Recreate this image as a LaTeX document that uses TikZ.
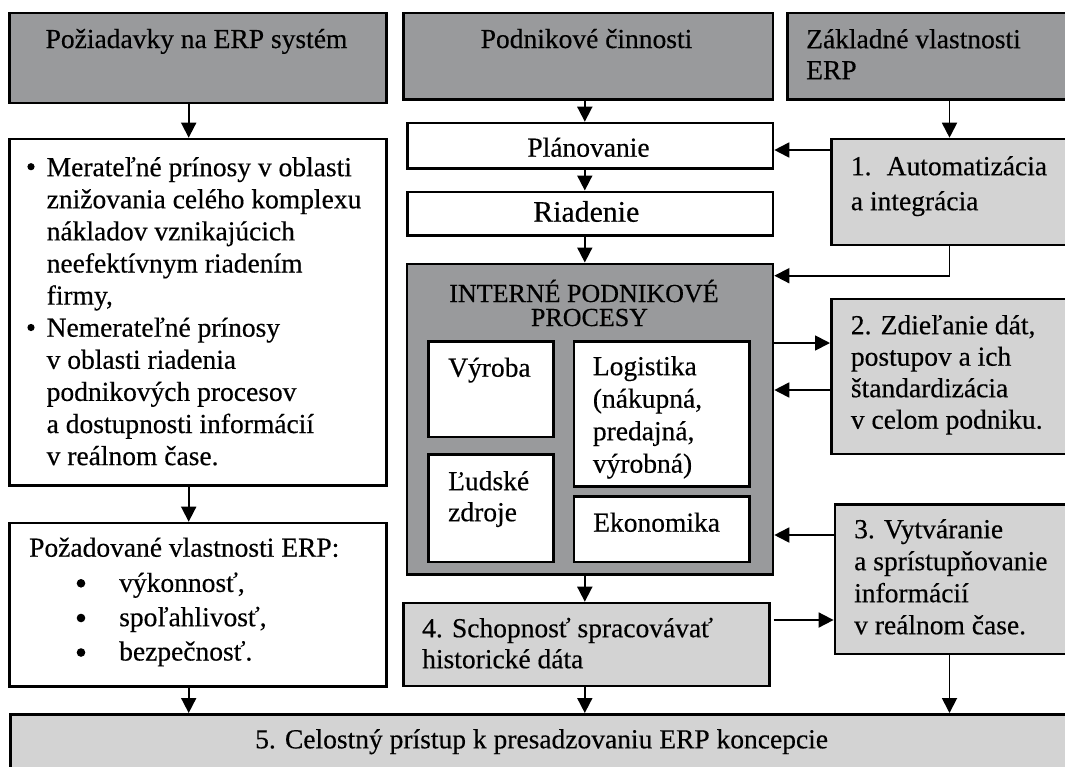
\documentclass[tikz,border=0pt]{standalone}
\usepackage{fontspec}
\setmainfont[FakeBold=0.4]{Liberation Serif}
\usetikzlibrary{arrows.meta,calc}
\definecolor{dk}{RGB}{153,154,156}
\definecolor{lt}{RGB}{211,211,211}
\newcommand\myfs[2]{\fontsize{#1}{#2}\selectfont}
\newcommand\st{\rule{0pt}{25pt}}
\newcommand\mybox[6]{\node[#1,anchor=north west,minimum width={(#5-#3)*1pt},minimum height={(#6-#4)*1pt}] (#2) at (#3,#4) {};}
\begin{document}
\begin{tikzpicture}[x=1pt,y=-1pt,
  bx/.style={draw=black,line width=2.6pt,inner sep=0pt},
  dkbox/.style={bx,fill=dk},
  ltbox/.style={bx,fill=lt},
  whbox/.style={bx,fill=white},
  txt/.style={inner sep=0pt,align=left,font=\myfs{27.5}{32}},
  dot/.style={fill=black},
  arr/.style={line width=1.8pt,draw=black,-{Triangle[length=15pt,width=15pt]}}]
\useasboundingbox (0,0) rectangle (1065,766);
\clip (0,0) rectangle (1065,766);
% boxes
\mybox{dkbox}{hA}{8}{11.7}{385}{101.7}
\mybox{dkbox}{hB}{402}{11.7}{771.7}{98}
\mybox{dkbox}{hC}{786}{11.7}{1075}{98}
\mybox{whbox}{plan}{406}{121.7}{771.7}{167}
\mybox{whbox}{ria}{406}{190.5}{771.7}{234.3}
\mybox{dkbox}{ip}{405.5}{262.5}{771.7}{573}
\mybox{whbox}{vyr}{427}{340}{552}{435.7}
\mybox{whbox}{lud}{427}{453}{552}{560.5}
\mybox{whbox}{log}{572.7}{340}{748}{485}
\mybox{whbox}{eko}{572.7}{495}{748}{560.5}
\mybox{ltbox}{b1}{830}{137.7}{1075}{243.5}
\mybox{ltbox}{b2}{830}{297.7}{1075}{452.7}
\mybox{ltbox}{b3}{833.6}{503}{1075}{652.7}
\mybox{ltbox}{b4}{402}{601.7}{768}{684.5}
\mybox{ltbox}{b5}{9}{713}{1075}{790}
\mybox{whbox}{bul}{8}{137.7}{385}{484}
\mybox{whbox}{req}{8}{521.7}{385}{685}
% texts
\node[txt,anchor=base] (tA) at (196.5,48) {Požiadavky na ERP systém};
\node[txt,anchor=base] (tB) at (586.5,48) {Podnikové činnosti};
\node[txt,anchor=north west,font=\myfs{27.5}{31}] (tC) at (806,23) {\st Základné vlastnosti\\ERP};
\node[txt,anchor=base] (tplan) at (588.5,156.7) {Plánovanie};
\node[txt,anchor=base,font=\myfs{29.8}{34}] (tria) at (586.3,221.7) {Riadenie};
\node[txt,anchor=base,font=\myfs{26}{30}] (tip1) at (584,302) {INTERNÉ PODNIKOVÉ};
\node[txt,anchor=base,font=\myfs{26}{30}] (tip2) at (589.5,326) {PROCESY};
\node[txt,anchor=base west] (tvyr) at (448,376.7) {Výroba};
\node[txt,anchor=north west,font=\myfs{27.5}{32.5}] (tlog) at (592.7,350) {\st Logistika\\(nákupná,\\predajná,\\výrobná)};
\node[txt,anchor=north west,font=\myfs{27.5}{31}] (tlud) at (448,465) {\st Ľudské\\zdroje};
\node[txt,anchor=base west] (teko) at (593,531.7) {Ekonomika};
\node[txt,anchor=north west,font=\myfs{27.5}{35}] (tb1) at (850.7,150) {\st 1.\hspace{15.2pt}Automatizácia\\a integrácia};
\node[txt,anchor=north west,font=\myfs{27.5}{31.5}] (tb2) at (850.7,309) {\st 2. Zdieľanie dát,\\postupov a ich\\štandardizácia\\v celom podniku.};
\node[txt,anchor=north west,font=\myfs{27.5}{32}] (tb3) at (854,513) {\st 3. Vytváranie\\a sprístupňovanie\\informácií\\v reálnom čase.};
\node[txt,anchor=north west,font=\myfs{27.5}{31}] (tb4) at (422,612) {\st 4. Schopnosť spracovávať\\historické dáta};
\node[txt,anchor=base] (tb5) at (541.6,748.3) {5. Celostný prístup k presadzovaniu ERP koncepcie};
\node[txt,anchor=north west,font=\myfs{27.5}{32.1}] (tbul) at (46.5,151) {\st Merateľné prínosy v oblasti\\znižovania celého komplexu\\nákladov vznikajúcich\\neefektívnym riadením\\firmy,\\Nemerateľné prínosy\\v oblasti riadenia\\podnikových procesov\\a dostupnosti informácií\\v reálnom čase.};
\node[txt,anchor=base west] (treq) at (29,556.7) {Požadované vlastnosti ERP:};
\node[txt,anchor=north west,font=\myfs{27.5}{34.3}] (treql) at (119,566.7) {\st výkonnosť,\\spoľahlivosť,\\bezpečnosť.};
% bullets
\fill[dot] (31,166.7) circle (3.6);
\fill[dot] (31,327.5) circle (3.6);
\fill[dot] (81,583.3) circle (4.3);
\fill[dot] (81,618.0) circle (4.3);
\fill[dot] (81,652.5) circle (4.3);
% connectors
\coordinate (cA) at (188.7,0);
\coordinate (cB) at (584.8,0);
\coordinate (cC) at (949.5,0);
\coordinate (y1) at (0,150);
\coordinate (y2) at (0,275.7);
\coordinate (y3) at (0,343);
\coordinate (y4) at (0,390);
\coordinate (y5) at (0,535);
\coordinate (y6) at (0,620);
\draw[arr] (hA.south -| cA) -- (bul.north -| cA);
\draw[arr] (bul.south -| cA) -- (req.north -| cA);
\draw[arr] (req.south -| cA) -- (b5.north -| cA);
\draw[arr] (hB.south -| cB) -- (plan.north -| cB);
\draw[arr] (plan.south -| cB) -- (ria.north -| cB);
\draw[arr] (ria.south -| cB) -- (ip.north -| cB);
\draw[arr] (ip.south -| cB) -- (b4.north -| cB);
\draw[arr] (b4.south -| cB) -- (b5.north -| cB);
\draw[arr] (hC.south -| cC) -- (b1.north -| cC);
\draw[arr] (b1.west |- y1) -- (plan.east |- y1);
\draw[arr] (b1.south -| cC) |- (ip.east |- y2);
\draw[arr] (ip.east |- y3) -- (b2.west |- y3);
\draw[arr] (b2.west |- y4) -- (ip.east |- y4);
\draw[arr] (b3.west |- y5) -- (ip.east |- y5);
\draw[arr,shorten <=3pt] (b4.east |- y6) -- (b3.west |- y6);
\draw[arr] (b3.south -| cC) -- (b5.north -| cC);
\end{tikzpicture}
\end{document}
